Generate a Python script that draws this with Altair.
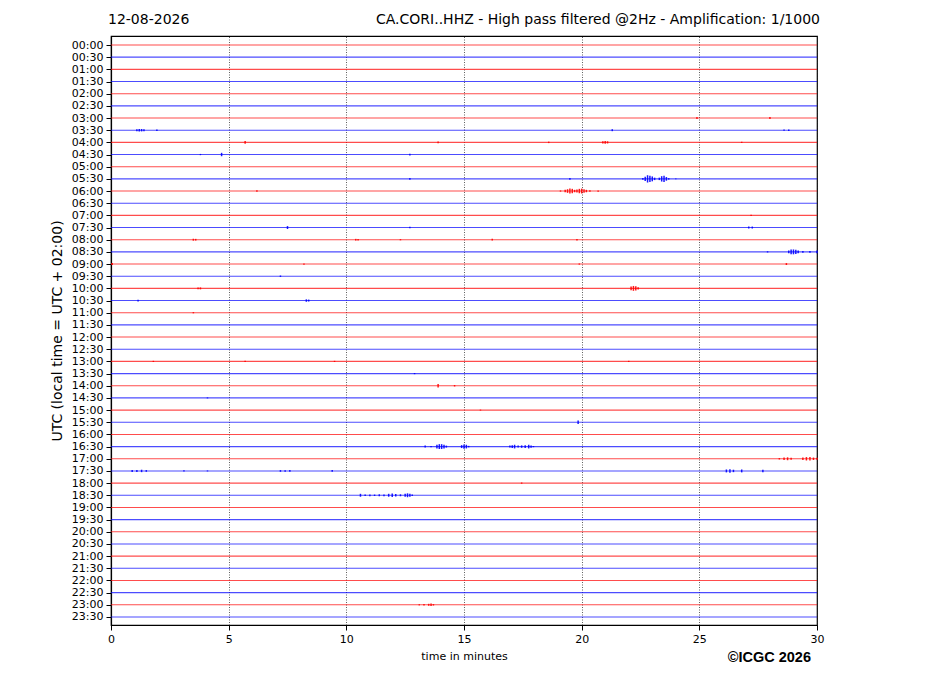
import altair as alt
import pandas as pd

# ---- data ----
tick_labels = [f"{h:02d}:{m:02d}" for h in range(24) for m in (0, 30)]
row_index = list(range(48))
row_colour = ["red" if i % 2 == 0 else "blue" for i in row_index]

# seismic bursts: row index, minute within the row, half-amplitude (in row units)
spike_row = (
    [6, 6]
    + [7] * 8
    + [8] * 7
    + [9] * 3
    + [11] * 14
    + [12] * 14
    + [14]
    + [15] * 4
    + [16] * 7
    + [17] * 9
    + [18] * 4
    + [19]
    + [20] * 6
    + [21] * 3
    + [22]
    + [26] * 4
    + [27]
    + [28] * 2
    + [29]
    + [30]
    + [31]
    + [33] * 20
    + [34] * 9
    + [35] * 15
    + [36]
    + [37] * 14
    + [46] * 5
)
spike_min = (
    [24.9, 28.0]
    + [1.1, 1.2, 1.3, 1.4, 1.95, 21.3, 28.6, 28.8]
    + [5.7, 13.9, 18.6, 20.9, 21.0, 21.1, 26.8]
    + [3.8, 4.7, 12.7]
    + [12.7, 19.5, 22.6, 22.7, 22.8, 22.9, 23.0, 23.1, 23.3, 23.4, 23.5, 23.6, 23.7, 24.0]
    + [6.2, 19.1, 19.3, 19.4, 19.5, 19.6, 19.7, 19.8, 19.9, 20.0, 20.1, 20.2, 20.35, 20.7]
    + [27.2]
    + [7.5, 12.7, 27.1, 27.25]
    + [3.5, 3.6, 10.4, 10.5, 12.3, 16.2, 19.8]
    + [27.9, 28.8, 28.9, 29.0, 29.1, 29.2, 29.4, 29.7, 30.0]
    + [0.05, 8.2, 19.9, 28.7]
    + [7.2]
    + [3.7, 3.8, 22.1, 22.2, 22.3, 22.4]
    + [1.15, 8.3, 8.4]
    + [3.5]
    + [1.8, 5.7, 9.5, 22.0]
    + [12.9]
    + [13.9, 14.6]
    + [4.1]
    + [15.7]
    + [19.85]
    + [13.35, 13.6, 13.85, 13.95, 14.05, 14.15, 14.25, 14.9, 15.0, 15.1, 15.2,
       16.95, 17.05, 17.15, 17.3, 17.45, 17.6, 17.75, 17.85, 17.95]
    + [28.4, 28.6, 28.75, 28.9, 29.4, 29.55, 29.7, 29.85, 30.0]
    + [0.9, 1.1, 1.3, 1.5, 3.1, 4.1, 7.2, 7.4, 7.6, 9.4, 26.15, 26.3, 26.45, 26.8, 27.7]
    + [17.45]
    + [10.6, 10.8, 11.0, 11.2, 11.4, 11.6, 11.8, 11.95, 12.1, 12.3, 12.5, 12.6, 12.7, 12.8]
    + [13.1, 13.3, 13.5, 13.6, 13.7]
)
spike_amp = (
    [0.08, 0.08]
    + [0.08, 0.1, 0.1, 0.08, 0.06, 0.08, 0.05, 0.06]
    + [0.12, 0.08, 0.06, 0.1, 0.12, 0.09, 0.05]
    + [0.05, 0.14, 0.07]
    + [0.08, 0.07, 0.08, 0.18, 0.3, 0.25, 0.2, 0.1, 0.1, 0.22, 0.25, 0.15, 0.06, 0.04]
    + [0.06, 0.05, 0.1, 0.15, 0.2, 0.18, 0.1, 0.12, 0.18, 0.2, 0.15, 0.1, 0.06, 0.05]
    + [0.06]
    + [0.12, 0.06, 0.08, 0.08]
    + [0.08, 0.07, 0.07, 0.06, 0.05, 0.07, 0.06]
    + [0.05, 0.12, 0.2, 0.2, 0.18, 0.12, 0.08, 0.07, 0.12]
    + [0.08, 0.05, 0.05, 0.08]
    + [0.06]
    + [0.08, 0.08, 0.15, 0.2, 0.18, 0.1]
    + [0.07, 0.1, 0.08]
    + [0.05]
    + [0.05, 0.05, 0.05, 0.05]
    + [0.05]
    + [0.15, 0.06]
    + [0.04]
    + [0.04]
    + [0.15]
    + [0.08, 0.05, 0.15, 0.2, 0.2, 0.15, 0.08, 0.12, 0.18, 0.15, 0.06,
       0.08, 0.12, 0.15, 0.08, 0.1, 0.12, 0.15, 0.1, 0.05]
    + [0.06, 0.1, 0.12, 0.08, 0.1, 0.14, 0.15, 0.1, 0.08]
    + [0.08, 0.08, 0.1, 0.07, 0.05, 0.04, 0.07, 0.06, 0.07, 0.07, 0.12, 0.14, 0.1, 0.12, 0.1]
    + [0.05]
    + [0.12, 0.06, 0.07, 0.06, 0.08, 0.07, 0.12, 0.15, 0.1, 0.08, 0.12, 0.16, 0.12, 0.06]
    + [0.05, 0.06, 0.08, 0.1, 0.06]
)

date_text = "12-08-2026"
title_text = "CA.CORI..HHZ - High pass filtered @2Hz - Amplification: 1/1000"
credit_text = "\u00a9ICGC 2026"

# ---- tables ----
rows_df = pd.DataFrame({"row": row_index, "colour": row_colour})
spikes_df = pd.DataFrame({"row": spike_row, "minute": spike_min, "amp": spike_amp})
spikes_df["lo"] = spikes_df["row"] - spikes_df["amp"]
spikes_df["hi"] = spikes_df["row"] + spikes_df["amp"]
spikes_df["colour"] = ["red" if r % 2 == 0 else "blue" for r in spikes_df["row"]]

W, H = 706, 589
FONT = "DejaVu Sans"

label_array = "[" + ",".join(f"'{t}'" for t in tick_labels) + "]"

yscale = alt.Scale(domain=[-0.74, 47.66], reverse=True, nice=False, zero=False)
xscale = alt.Scale(domain=[0, 30], nice=False, zero=False)
cscale = alt.Scale(domain=["red", "blue"], range=["#ff0000", "#0000ff"])

y_axis = alt.Axis(
    values=row_index,
    labelExpr=label_array + "[datum.value]",
    title="UTC (local time = UTC + 02:00)",
    titleFontSize=14,
    titleFontWeight="normal",
    titleX=-54,
    titleY=H / 2,
    titleAngle=270,
    titleAlign="center",
    titleBaseline="middle",
    labelFontSize=11,
    tickSize=5,
    labelPadding=3,
    grid=False,
)

x_axis = alt.Axis(
    values=[0, 5, 10, 15, 20, 25, 30],
    title="time in minutes",
    titleFontSize=11,
    titleFontWeight="normal",
    titleY=31,
    titleBaseline="middle",
    labelFontSize=11,
    labelFlush=False,
    tickSize=5,
    labelPadding=3,
    grid=True,
    gridDash=[1, 1.5],
    gridColor="#222222",
    gridWidth=0.8,
    gridOpacity=0.9,
)

baselines = alt.Chart(rows_df).mark_rule(strokeWidth=1.1, opacity=0.7).encode(
    y=alt.Y("row:Q", scale=yscale, axis=y_axis),
    color=alt.Color("colour:N", scale=cscale, legend=None),
)

spikes = alt.Chart(spikes_df).mark_rule(strokeWidth=1.5, opacity=0.9).encode(
    x=alt.X("minute:Q", scale=xscale, axis=x_axis),
    y=alt.Y("lo:Q", scale=yscale, axis=y_axis),
    y2="hi:Q",
    color=alt.Color("colour:N", scale=cscale, legend=None),
)

date_mark = alt.Chart(pd.DataFrame({"t": [date_text]})).mark_text(
    align="left", baseline="middle", fontSize=14, font=FONT, color="black"
).encode(text="t:N", x=alt.value(-3), y=alt.value(-16))

title_mark = alt.Chart(pd.DataFrame({"t": [title_text]})).mark_text(
    align="right", baseline="middle", fontSize=14, font=FONT, color="black"
).encode(text="t:N", x=alt.value(W + 3), y=alt.value(-16))

credit_mark = alt.Chart(pd.DataFrame({"t": [credit_text]})).mark_text(
    align="right", baseline="middle", fontSize=14.5, font="Liberation Sans",
    fontWeight="bold", color="black"
).encode(text="t:N", x=alt.value(700), y=alt.value(622))

chart = (
    alt.layer(baselines, spikes, date_mark, title_mark, credit_mark)
    .properties(
        width=W,
        height=H,
        autosize=alt.AutoSizeParams(type="none"),
        padding={"left": 103, "top": 28, "right": 100, "bottom": 60},
        background="white",
    )
    .configure_view(stroke="black", strokeWidth=1.2)
    .configure_axis(
        labelFont=FONT,
        titleFont=FONT,
        labelColor="black",
        titleColor="black",
        domainColor="black",
        tickColor="black",
        domainWidth=1.2,
        tickWidth=1,
    )
)

chart.save("out.html", embed_options={"renderer": "svg", "actions": False})
